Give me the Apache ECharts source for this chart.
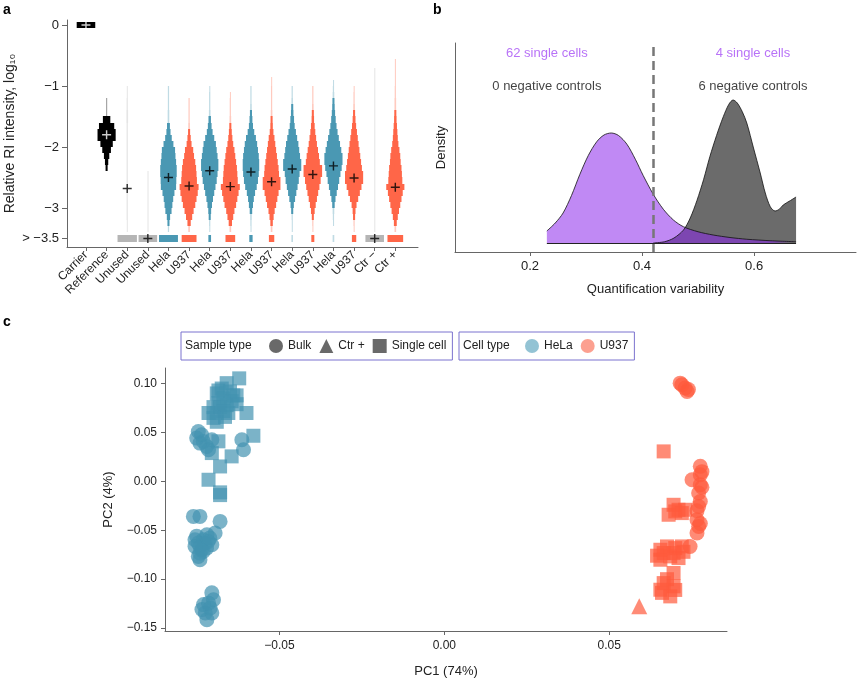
<!DOCTYPE html>
<html>
<head>
<meta charset="utf-8">
<script src="https://cdn.jsdelivr.net/npm/echarts@6/dist/echarts.min.js"></script>
<style>html,body{margin:0;background:#fff}#chart{width:858px;height:678px}</style>
</head>
<body>
<div id="chart"></div>
<script>
// ---- panel a: RI intensity per channel (step violins, 0.1 log bins) ----
const channels = ['Carrier', 'Reference', 'Unused', 'Unused', 'Hela', 'U937', 'Hela', 'U937',
  'Hela', 'U937', 'Hela', 'U937', 'Hela', 'U937', 'Ctr −', 'Ctr +'];
const channelType = ['black', 'black', 'unused', 'unused', 'hela', 'u937', 'hela', 'u937',
  'hela', 'u937', 'hela', 'u937', 'hela', 'u937', 'unused', 'u937'];
const channelMeans = [0, -1.8, -2.68, -3.5, -2.50, -2.64, -2.39, -2.65, -2.41, -2.57, -2.36, -2.45, -2.31, -2.51, -3.5, -2.66];
const violinTop = [0.05, -1, -1, -1, -1, -1, -1, -1, -1, -1, -1, -1, -1, -1, -1, -1];
const tailTop = [null, null, null, null, null, null, null, null, null, -0.85, null, null, -0.9, null, -0.7, -0.55];
const violinBins = [
  [0.45],
  [0, 0, 0.03, 0.03, 0.03, 0.18, 0.37, 0.44, 0.44, 0.30, 0.21, 0.13, 0.08, 0.05],
  [0.02, 0.02, 0.03, 0.03, 0.04, 0.04, 0.03, 0.03, 0.03, 0.03, 0.03, 0.03, 0.03, 0.03, 0.03, 0.03, 0.03, 0.03, 0.03, 0.03, 0.03, 0.03, 0.02, 0.02],
  [0, 0, 0, 0, 0, 0, 0, 0, 0, 0, 0, 0, 0, 0, 0.015, 0.015, 0.015, 0.015, 0.015, 0.015, 0.015, 0.015, 0.015, 0.015],
  [0.03, 0.03, 0.03, 0.03, 0.04, 0.04, 0.07, 0.10, 0.16, 0.24, 0.32, 0.34, 0.37, 0.40, 0.40, 0.38, 0.37, 0.29, 0.23, 0.19, 0.15, 0.08, 0.05, 0.03],
  [0, 0, 0.03, 0.03, 0.03, 0.03, 0.04, 0.05, 0.08, 0.12, 0.20, 0.24, 0.30, 0.34, 0.36, 0.38, 0.46, 0.42, 0.36, 0.30, 0.22, 0.15, 0.08, 0.04],
  [0.02, 0.03, 0.03, 0.03, 0.04, 0.06, 0.09, 0.14, 0.22, 0.30, 0.34, 0.38, 0.42, 0.42, 0.38, 0.34, 0.28, 0.22, 0.16, 0.11, 0.07, 0.05, 0.03, 0.02],
  [0, 0.02, 0.03, 0.03, 0.03, 0.04, 0.05, 0.07, 0.10, 0.14, 0.20, 0.24, 0.28, 0.32, 0.34, 0.36, 0.46, 0.40, 0.34, 0.28, 0.20, 0.14, 0.08, 0.04],
  [0.03, 0.03, 0.03, 0.04, 0.05, 0.07, 0.10, 0.16, 0.24, 0.30, 0.34, 0.38, 0.40, 0.40, 0.38, 0.34, 0.28, 0.20, 0.14, 0.10, 0.06, 0.04, 0.03, 0.02],
  [0.03, 0.03, 0.03, 0.03, 0.04, 0.05, 0.06, 0.09, 0.14, 0.18, 0.22, 0.26, 0.30, 0.34, 0.36, 0.43, 0.43, 0.34, 0.28, 0.22, 0.15, 0.10, 0.06, 0.04],
  [0.03, 0.03, 0.04, 0.05, 0.06, 0.09, 0.12, 0.18, 0.24, 0.30, 0.34, 0.38, 0.44, 0.44, 0.36, 0.32, 0.26, 0.20, 0.14, 0.08, 0.05, 0.03, 0.02, 0.02],
  [0.03, 0.03, 0.03, 0.04, 0.05, 0.06, 0.09, 0.12, 0.16, 0.20, 0.25, 0.30, 0.34, 0.45, 0.45, 0.38, 0.32, 0.26, 0.20, 0.14, 0.09, 0.05, 0.03, 0.02],
  [0.03, 0.04, 0.05, 0.06, 0.08, 0.11, 0.15, 0.20, 0.26, 0.32, 0.38, 0.44, 0.44, 0.40, 0.34, 0.28, 0.22, 0.16, 0.10, 0.06, 0.04, 0.03, 0.02, 0],
  [0.02, 0.03, 0.03, 0.04, 0.05, 0.07, 0.10, 0.14, 0.18, 0.22, 0.26, 0.30, 0.34, 0.38, 0.44, 0.44, 0.36, 0.28, 0.20, 0.12, 0.07, 0.05, 0.03, 0.02],
  [0.02, 0.02, 0.02, 0.02, 0.02, 0.02, 0.02, 0.02, 0.02, 0.02, 0.02, 0.02, 0.02, 0.02, 0.02, 0.02, 0.02, 0.02, 0.02, 0.02, 0.02, 0.02, 0.02, 0.02],
  [0.03, 0.03, 0.04, 0.04, 0.05, 0.06, 0.08, 0.10, 0.12, 0.15, 0.20, 0.24, 0.26, 0.30, 0.32, 0.34, 0.44, 0.36, 0.30, 0.24, 0.18, 0.12, 0.07, 0.04]
];
// half-width of the "below -3.5" bar per channel
const lowBars = [0, 0, 0.47, 0.45, 0.46, 0.36, 0.065, 0.235, 0.08, 0.13, 0.04, 0.073, 0.04, 0.105, 0.45, 0.38];
const aTicks = [0, -1, -2, -3, -3.5];

// ---- panel b: quantification variability densities ----
const singleCellDens = [[0.23, 0.48], [0.245, 0.8], [0.259, 1.2], [0.274, 1.9], [0.289, 2.75], [0.304, 3.5],
  [0.319, 4.05], [0.332, 4.32], [0.345, 4.4], [0.358, 4.3], [0.373, 3.95], [0.388, 3.35], [0.402, 2.7],
  [0.42, 1.95], [0.438, 1.35], [0.456, 0.92], [0.474, 0.65], [0.50, 0.45], [0.527, 0.32], [0.557, 0.22],
  [0.587, 0.15], [0.63, 0.09], [0.675, 0.05]];
const negCtrlDens = [[0.42, 0.0], [0.44, 0.05], [0.457, 0.2], [0.474, 0.52], [0.486, 1.0], [0.498, 1.7],
  [0.51, 2.55], [0.521, 3.45], [0.533, 4.3], [0.545, 5.05], [0.555, 5.55], [0.5625, 5.72], [0.57, 5.6],
  [0.579, 5.25], [0.587, 4.8], [0.599, 3.8], [0.611, 2.8], [0.62, 2.0], [0.629, 1.45], [0.6375, 1.28],
  [0.645, 1.35], [0.652, 1.52], [0.665, 1.7], [0.675, 1.84]];
const cutoff = 0.42;
const bNotes = ['62 single cells', '0 negative controls', '4 single cells', '6 negative controls'];
const bNoteX = [0.23, 0.23, 0.598, 0.598];
const bNoteY = [7.6, 6.28, 7.6, 6.28];

// ---- panel c: PCA ----
const helaBulk = [[-0.0746, 0.0511], [-0.0751, 0.0443], [-0.0741, 0.0392], [-0.0736, 0.0477], [-0.0731, 0.0409],
  [-0.0721, 0.0358], [-0.0715, 0.0324], [-0.0705, 0.0426], [-0.0614, 0.0426], [-0.0609, 0.0324],
  [-0.0761, -0.0358], [-0.0741, -0.0358], [-0.0680, -0.0409], [-0.0695, -0.0528], [-0.0720, -0.0545],
  [-0.0751, -0.056], [-0.0756, -0.0597], [-0.0746, -0.0631], [-0.0741, -0.0665], [-0.0736, -0.0699],
  [-0.0741, -0.0733], [-0.0746, -0.0767], [-0.0741, -0.0801], [-0.0731, -0.0597], [-0.0726, -0.0631],
  [-0.0716, -0.0614], [-0.0705, -0.0648], [-0.0721, -0.0682], [-0.0731, -0.0716], [-0.0756, -0.0665],
  [-0.0711, -0.0580], [-0.0705, -0.114], [-0.0700, -0.121], [-0.0730, -0.126], [-0.0725, -0.1346],
  [-0.0710, -0.1295], [-0.0720, -0.1414], [-0.0705, -0.1346], [-0.0735, -0.131], [-0.0715, -0.1245]];
const helaSingle = [[-0.0622, 0.1054], [-0.0660, 0.1005], [-0.0690, 0.0900], [-0.0675, 0.0950], [-0.0650, 0.0920],
  [-0.0640, 0.0880], [-0.0670, 0.0850], [-0.0685, 0.0800], [-0.0700, 0.0760], [-0.0660, 0.0780],
  [-0.0645, 0.0820], [-0.0630, 0.0790], [-0.0715, 0.0700], [-0.0690, 0.0700], [-0.0670, 0.0720],
  [-0.0655, 0.0700], [-0.0600, 0.0700], [-0.0690, 0.0610], [-0.0665, 0.0660], [-0.0680, 0.0760],
  [-0.0700, 0.0650], [-0.0630, 0.0880], [-0.0685, 0.0930], [-0.0579, 0.0467], [-0.0685, 0.0410],
  [-0.0705, 0.0290], [-0.0645, 0.0256], [-0.0680, 0.0153], [-0.0715, 0.0017], [-0.0680, -0.0112],
  [-0.0680, -0.0140]];
const u937Bulk = [[0.0720, 0.0989], [0.0736, 0.0920], [0.0730, 0.0955], [0.0715, 0.1005], [0.0740, 0.0940],
  [0.0776, 0.0154], [0.0776, 0.0068], [0.0751, 0.0017], [0.0776, -0.0034], [0.0771, -0.0119],
  [0.0776, -0.0205], [0.0771, -0.0256], [0.0766, -0.0392], [0.0771, -0.0460], [0.0766, -0.0528],
  [0.0745, -0.0665], [0.0781, 0.0100], [0.0781, -0.0060], [0.0766, -0.0300], [0.0776, -0.0430]];
const u937Single = [[0.0665, 0.0307], [0.0695, -0.0239], [0.0710, -0.0290], [0.0680, -0.0341], [0.0720, -0.0324],
  [0.0700, -0.0307], [0.0730, -0.0290], [0.0655, -0.0699], [0.0675, -0.0665], [0.0700, -0.0682],
  [0.0720, -0.0665], [0.0655, -0.0801], [0.0685, -0.0767], [0.0710, -0.0784], [0.0665, -0.0733],
  [0.0695, -0.0733], [0.0725, -0.0720], [0.0645, -0.0760], [0.0695, -0.0937], [0.0665, -0.1040],
  [0.0695, -0.1073], [0.0655, -0.1108], [0.0685, -0.1176], [0.0675, -0.1000], [0.0700, -0.1110],
  [0.0660, -0.1140]];
const u937Ctr = [[0.0591, -0.1277]];
const pcXTicks = [-0.05, 0, 0.05];
const pcYTicks = [-0.15, -0.1, -0.05, 0, 0.05, 0.1];

const FONT = 'Liberation Sans';
const typeColor = {black: '#000', unused: '#b5b5b5', hela: '#4a98b3', u937: '#ff6648'};
const HELA = '#4393b0', U937 = '#ff5a3c';
const minus = s => s.replace('-', '−');

// build rect items: [channel, top, halfWidth, height]
const rects = [];
channels.forEach((_, i) => {
  const bins = violinBins[i];
  const h = 0.1;
  bins.forEach((w, k) => {
    if (w > 0) rects.push([i, violinTop[i] - k * h, w, h]);
  });
  if (tailTop[i] != null) rects.push([i, tailTop[i], 0.02, tailTop[i] - violinTop[i]]);
  if (lowBars[i] > 0) rects.push([i, -3.445, lowBars[i], 0.11]);
});

const plusPath = 'path://M4.2,0h1.6v4.2h4.2v1.6h-4.2v4.2h-1.6v-4.2h-4.2v-1.6h4.2z';
const axisGrey = '#666';

const chart = echarts.init(document.getElementById('chart'));
const option = {
  animation: false,
  textStyle: {fontFamily: FONT},
  grid: [
    {left: 67, top: 20, width: 351, height: 227, outerBoundsMode: 'none'},
    {left: 455, top: 43, width: 401, height: 209, outerBoundsMode: 'none'},
    {left: 165, top: 368, width: 562, height: 263, outerBoundsMode: 'none'}
  ],
  xAxis: [
    {
      gridIndex: 0, type: 'value', min: -0.92, max: 16.1,
      axisLine: {show: true, onZero: false, lineStyle: {color: axisGrey}},
      axisTick: {show: true, customValues: channels.map((_, i) => i), length: 4, lineStyle: {color: axisGrey}},
      axisLabel: {customValues: channels.map((_, i) => i), rotate: 45, margin: 6, fontSize: 12, color: '#222',
        formatter: v => channels[Math.round(v)]},
      splitLine: {show: false}
    },
    {
      gridIndex: 1, type: 'value', min: 0.066, max: 0.782,
      axisLine: {show: true, onZero: false, lineStyle: {color: axisGrey}},
      axisTick: {show: true, customValues: [0.2, 0.4, 0.6], length: 4, lineStyle: {color: axisGrey}},
      axisLabel: {customValues: [0.2, 0.4, 0.6], fontSize: 13, color: '#222', margin: 8, formatter: v => v.toFixed(1)},
      splitLine: {show: false},
      name: 'Quantification variability', nameLocation: 'middle', nameGap: 31,
      nameTextStyle: {fontSize: 13, color: '#222'}
    },
    {
      gridIndex: 2, type: 'value', min: -0.0847, max: 0.0857,
      axisLine: {show: true, onZero: false, lineStyle: {color: axisGrey}},
      axisTick: {show: true, customValues: pcXTicks, length: 4, lineStyle: {color: axisGrey}},
      axisLabel: {customValues: pcXTicks, fontSize: 12, color: '#222', margin: 9, formatter: v => minus(v.toFixed(2))},
      splitLine: {show: false},
      name: 'PC1 (74%)', nameLocation: 'middle', nameGap: 34,
      nameTextStyle: {fontSize: 13, color: '#222'}
    }
  ],
  yAxis: [
    {
      gridIndex: 0, type: 'value', min: -3.64, max: 0.082,
      axisLine: {show: true, onZero: false, lineStyle: {color: axisGrey}},
      axisTick: {show: true, customValues: aTicks, length: 5, lineStyle: {color: axisGrey}},
      axisLabel: {customValues: aTicks, fontSize: 13, color: '#222', margin: 8,
        formatter: v => v === -3.5 ? '> −3.5' : (v === 0 ? '0' : '−' + Math.abs(v))},
      splitLine: {show: false},
      name: 'Relative RI intensity, log₁₀', nameLocation: 'middle', nameGap: 50, nameRotate: 90,
      nameTextStyle: {fontSize: 14, color: '#222'}
    },
    {
      gridIndex: 1, type: 'value', min: -0.36, max: 8,
      axisLine: {show: true, onZero: false, lineStyle: {color: axisGrey}},
      axisTick: {show: false}, axisLabel: {show: false}, splitLine: {show: false},
      name: 'Density', nameLocation: 'middle', nameGap: 7, nameRotate: 90,
      nameTextStyle: {fontSize: 13, color: '#222'}
    },
    {
      gridIndex: 2, type: 'value', min: -0.153, max: 0.116,
      axisLine: {show: true, onZero: false, lineStyle: {color: axisGrey}},
      axisTick: {show: true, customValues: pcYTicks, length: 4, lineStyle: {color: axisGrey}},
      axisLabel: {customValues: pcYTicks, fontSize: 12, color: '#222', margin: 8, formatter: v => minus(v.toFixed(2))},
      splitLine: {show: false},
      name: 'PC2 (4%)', nameLocation: 'middle', nameGap: 50, nameRotate: 90,
      nameTextStyle: {fontSize: 13, color: '#222'}
    }
  ],
  legend: [
    {
      left: 181, top: 332, padding: [7, 6, 7, 88], itemWidth: 14, itemHeight: 14, itemGap: 8,
      borderColor: '#7b72cf', borderWidth: 1, selectedMode: false,
      textStyle: {fontSize: 12, color: '#222', fontFamily: FONT},
      data: [{name: 'Bulk', icon: 'circle'}, {name: 'Ctr +', icon: 'triangle'}, {name: 'Single cell', icon: 'rect'}]
    },
    {
      left: 459, top: 332, padding: [7, 6, 7, 66], itemWidth: 14, itemHeight: 14, itemGap: 8,
      borderColor: '#7b72cf', borderWidth: 1, selectedMode: false,
      textStyle: {fontSize: 12, color: '#222', fontFamily: FONT},
      data: [{name: 'HeLa', icon: 'circle'}, {name: 'U937', icon: 'circle'}]
    }
  ],
  graphic: [
    {type: 'text', left: 3, top: 3, style: {text: 'a', font: 'bold 14px ' + FONT, fill: '#000'}},
    {type: 'text', left: 433, top: 3, style: {text: 'b', font: 'bold 14px ' + FONT, fill: '#000'}},
    {type: 'text', left: 3, top: 315, style: {text: 'c', font: 'bold 14px ' + FONT, fill: '#000'}},
    {type: 'text', left: 185, top: 340, style: {text: 'Sample type', font: '12px ' + FONT, fill: '#222'}},
    {type: 'text', left: 463, top: 340, style: {text: 'Cell type', font: '12px ' + FONT, fill: '#222'}}
  ],
  series: [
    {
      type: 'custom', xAxisIndex: 0, yAxisIndex: 0, data: rects, encode: {x: 0, y: 1},
      renderItem: (params, api) => {
        const c = api.value(0), top = api.value(1), hw = api.value(2), h = api.value(3);
        const p0 = api.coord([c - hw, top]);
        const p1 = api.coord([c + hw, top - h]);
        const y0 = Math.round(p0[1]), y1 = Math.round(p1[1]);
        return {
          type: 'rect',
          shape: {x: p0[0], y: y0, width: Math.max(p1[0] - p0[0], 1), height: Math.max(y1 - y0, 1)},
          style: {fill: typeColor[channelType[c]], opacity: hw < 0.05 ? 0.35 : 1}
        };
      }
    },
    {
      type: 'scatter', xAxisIndex: 0, yAxisIndex: 0, symbol: plusPath, symbolSize: 9, z: 5,
      data: channelMeans.map((m, i) => ({value: [i, m], itemStyle: {color: i < 2 ? '#fff' : '#000'}}))
    },
    {
      type: 'line', xAxisIndex: 1, yAxisIndex: 1, data: negCtrlDens, smooth: 0.3,
      symbol: 'none', lineStyle: {color: '#111', width: 0.8}, areaStyle: {color: '#6b6b6b', opacity: 1},
      markLine: {
        silent: true, symbol: 'none', label: {show: false},
        lineStyle: {color: '#777', width: 2.5, type: [9, 5]},
        data: [{xAxis: cutoff}]
      }
    },
    {
      type: 'line', xAxisIndex: 1, yAxisIndex: 1, data: singleCellDens, smooth: 0.3,
      symbol: 'none', lineStyle: {color: '#111', width: 0.8},
      areaStyle: {color: 'rgba(140,40,235,0.55)', opacity: 1},
      markLine: {
        silent: true, symbol: 'none', label: {show: false},
        lineStyle: {color: '#222', width: 1, type: 'solid'},
        data: [[{coord: [singleCellDens[0][0], 0]}, {coord: [negCtrlDens[negCtrlDens.length - 1][0], 0]}]]
      }
    },
    {
      type: 'scatter', xAxisIndex: 1, yAxisIndex: 1, symbolSize: 1, itemStyle: {color: 'transparent'},
      data: bNotes.map((t, i) => ({
        value: [bNoteX[i], bNoteY[i]], name: t,
        label: {show: true, position: 'inside', formatter: '{b}', fontSize: 13, fontFamily: FONT,
          color: i % 2 === 0 ? '#a64ff5' : '#111'}
      }))
    },
    // legend-only entries
    {name: 'Bulk', type: 'scatter', xAxisIndex: 2, yAxisIndex: 2, data: [], itemStyle: {color: '#444'}},
    {name: 'Ctr +', type: 'scatter', xAxisIndex: 2, yAxisIndex: 2, data: [], itemStyle: {color: '#444'}},
    {name: 'Single cell', type: 'scatter', xAxisIndex: 2, yAxisIndex: 2, data: [], itemStyle: {color: '#444'}},
    {name: 'HeLa', type: 'scatter', xAxisIndex: 2, yAxisIndex: 2, data: [], itemStyle: {color: '#78b4c9'}},
    {name: 'U937', type: 'scatter', xAxisIndex: 2, yAxisIndex: 2, data: [], itemStyle: {color: '#fb8874'}},
    // PCA points
    {name: 'HeLa bulk', type: 'scatter', xAxisIndex: 2, yAxisIndex: 2, data: helaBulk, symbol: 'circle', symbolSize: 15,
      itemStyle: {color: HELA, opacity: 0.7}},
    {name: 'HeLa single', type: 'scatter', xAxisIndex: 2, yAxisIndex: 2, data: helaSingle, symbol: 'rect', symbolSize: 14,
      itemStyle: {color: HELA, opacity: 0.7}},
    {name: 'U937 bulk', type: 'scatter', xAxisIndex: 2, yAxisIndex: 2, data: u937Bulk, symbol: 'circle', symbolSize: 15,
      itemStyle: {color: U937, opacity: 0.7}},
    {name: 'U937 single', type: 'scatter', xAxisIndex: 2, yAxisIndex: 2, data: u937Single, symbol: 'rect', symbolSize: 14,
      itemStyle: {color: U937, opacity: 0.7}},
    {name: 'U937 ctr', type: 'scatter', xAxisIndex: 2, yAxisIndex: 2, data: u937Ctr, symbol: 'triangle', symbolSize: 16,
      itemStyle: {color: U937, opacity: 0.7}}
  ]
};
chart.setOption(option);
</script>
</body>
</html>
